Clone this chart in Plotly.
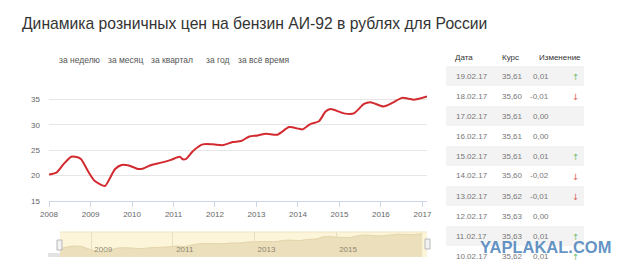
import plotly.graph_objects as go

# ---------------- data ----------------
title_text = "Динамика розничных цен на бензин АИ-92 в рублях для России"
range_buttons = ["за неделю", "за месяц", "за квартал", "за год", "за всё время"]

dates = ["2008-01-01", "2008-03-10", "2008-05-10", "2008-07-15", "2008-09-01", "2008-10-10",
         "2008-12-15", "2009-02-05", "2009-05-08", "2009-06-20", "2009-08-05", "2009-10-01",
         "2009-11-25", "2010-02-25", "2010-04-10", "2010-06-20", "2010-09-15", "2010-12-10",
         "2011-02-25", "2011-03-25", "2011-04-22", "2011-06-20", "2011-09-15", "2011-12-15",
         "2012-03-10", "2012-06-05", "2012-08-18", "2012-10-30", "2013-01-10", "2013-03-25",
         "2013-07-05", "2013-10-15", "2014-01-10", "2014-02-10", "2014-04-20", "2014-07-05",
         "2014-09-01", "2014-10-15", "2015-02-10", "2015-05-08", "2015-08-05", "2015-10-01",
         "2016-01-25", "2016-04-10", "2016-07-05", "2016-09-01", "2016-10-15", "2017-02-10"]
prices = [20.2, 20.65, 22.3, 23.7, 23.65, 23.2,
          20.65, 19.0, 17.95, 19.5, 21.3, 22.1,
          22.05, 21.3, 21.4, 22.1, 22.55, 23.1,
          23.7, 23.2, 23.3, 24.8, 26.15, 26.15,
          26.0, 26.6, 26.8, 27.7, 27.9, 28.25,
          28.05, 29.55, 29.2, 29.1, 30.15, 30.7,
          32.6, 33.1, 32.25, 32.25, 34.1, 34.45,
          33.6, 34.3, 35.3, 35.15, 34.95, 35.6]

y_ticks = [15, 20, 25, 30, 35, 40]
y_ticklabels = ["15", "20", "25", "30", "35", ""]
nav_ticks = ["2009-01-01", "2011-01-01", "2013-01-01", "2015-01-01"]

table_header = ["Дата", "Курс", "Изменение"]
table_dates = ["19.02.17", "18.02.17", "17.02.17", "16.02.17", "15.02.17",
               "14.02.17", "13.02.17", "12.02.17", "11.02.17", "10.02.17"]
table_rates = ["35,61", "35,60", "35,61", "35,61", "35,61",
               "35,60", "35,62", "35,63", "35,63", "35,62"]
table_changes = [0.01, -0.01, 0.00, 0.00, 0.01, -0.02, -0.01, 0.00, 0.01, 0.01]

watermark = "YAPLAKAL.COM"

# ---------------- helpers ----------------
W, H = 640, 276
def fx(p):
    return p / W
def fy(p):
    return 1 - p / H

FONT = "Liberation Sans, Arial, sans-serif"

fig = go.Figure()

# main line
fig.add_trace(go.Scatter(
    x=dates, y=prices, mode="lines",
    line=dict(color="#d32a2f", width=2, shape="spline", smoothing=0.6),
    xaxis="x", yaxis="y", hoverinfo="skip", showlegend=False))

# navigator area
fig.add_trace(go.Scatter(
    x=dates, y=prices, mode="lines", fill="tozeroy",
    fillcolor="#ebdfbc", line=dict(color="#e3d5a9", width=1, shape="spline", smoothing=0.6),
    xaxis="x2", yaxis="y2", hoverinfo="skip", showlegend=False))

shapes = []
annotations = []

# navigator background
shapes.append(dict(type="rect", xref="x2 domain", yref="y2 domain", x0=0, x1=1, y0=0, y1=1,
                   fillcolor="#fcf5d9", line=dict(width=0), layer="below"))
shapes.append(dict(type="line", xref="x2 domain", yref="y2 domain", x0=0, x1=1, y0=1, y1=1,
                   line=dict(color="#efe6c6", width=1)))
# navigator handles / scrollbar pieces
shapes.append(dict(type="rect", xref="paper", yref="paper", x0=fx(57), x1=fx(62), y0=fy(250), y1=fy(240),
                   fillcolor="#f2f2f2", line=dict(color="#b8b8b8", width=1)))
shapes.append(dict(type="rect", xref="paper", yref="paper", x0=fx(425), x1=fx(430), y0=fy(249), y1=fy(239),
                   fillcolor="#f2f2f2", line=dict(color="#b8b8b8", width=1)))
shapes.append(dict(type="rect", xref="paper", yref="paper", x0=fx(48), x1=fx(60), y0=fy(257), y1=fy(253),
                   fillcolor="#e3e3e3", line=dict(width=0)))

# title
annotations.append(dict(text=title_text, xref="paper", yref="paper", x=fx(20), y=fy(23),
                        xanchor="left", yanchor="middle", showarrow=False,
                        font=dict(family=FONT, size=15.7, color="#333333")))

# range buttons
btn_x = [79.5, 125.5, 172, 217.5, 264]
for t, cx in zip(range_buttons, btn_x):
    annotations.append(dict(text=t, xref="paper", yref="paper", x=fx(cx), y=fy(60),
                            xanchor="center", yanchor="middle", showarrow=False,
                            font=dict(family=FONT, size=8.5, color="#555555")))

# table
col_x = [453, 500, 537]
for t, cx in zip(table_header, col_x):
    annotations.append(dict(text=t, xref="paper", yref="paper", x=fx(cx), y=fy(57),
                            xanchor="left", yanchor="middle", showarrow=False,
                            font=dict(family=FONT, size=8, color="#333333")))
for i, (d, r, c) in enumerate(zip(table_dates, table_rates, table_changes)):
    yc = 76 + 20 * i
    if i % 2 == 0:
        shapes.append(dict(type="rect", xref="paper", yref="paper", x0=fx(446), x1=fx(584),
                           y0=fy(yc + 10), y1=fy(yc - 10), fillcolor="#f3f3f3",
                           line=dict(width=0), layer="below"))
    annotations.append(dict(text=d, xref="paper", yref="paper", x=fx(454), y=fy(yc),
                            xanchor="left", yanchor="middle", showarrow=False,
                            font=dict(family=FONT, size=8, color="#777777")))
    annotations.append(dict(text=r, xref="paper", yref="paper", x=fx(500), y=fy(yc),
                            xanchor="left", yanchor="middle", showarrow=False,
                            font=dict(family=FONT, size=8, color="#777777")))
    ctxt = ("%.2f" % c).replace(".", ",")
    annotations.append(dict(text=ctxt, xref="paper", yref="paper", x=fx(551), y=fy(yc),
                            xanchor="right", yanchor="middle", showarrow=False,
                            font=dict(family=FONT, size=8, color="#777777")))
    if c > 0:
        annotations.append(dict(text="↑", xref="paper", yref="paper", x=fx(575), y=fy(yc + 1),
                                xanchor="center", yanchor="middle", showarrow=False,
                                font=dict(family="DejaVu Sans", size=8.5, color="#6abf6a")))
    elif c < 0:
        annotations.append(dict(text="↓", xref="paper", yref="paper", x=fx(575), y=fy(yc + 1),
                                xanchor="center", yanchor="middle", showarrow=False,
                                font=dict(family="DejaVu Sans", size=8.5, color="#d9605c")))

# watermark
annotations.append(dict(text="<b>" + watermark + "</b>", xref="paper", yref="paper",
                        x=fx(545), y=fy(247), xanchor="center", yanchor="middle", showarrow=False,
                        font=dict(family=FONT, size=16.5, color="rgba(72,128,186,0.85)")))

fig.update_layout(
    width=W, height=H, margin=dict(l=0, r=0, t=0, b=0, autoexpand=False),
    paper_bgcolor="white", plot_bgcolor="rgba(0,0,0,0)",
    showlegend=False,
    shapes=shapes, annotations=annotations,
    xaxis=dict(domain=[fx(49), fx(427)], type="date", automargin=False,
               range=["2008-01-01", "2017-02-10"],
               tickvals=["%d-01-01" % yr for yr in range(2008, 2018)],
               tickformat="%Y", showgrid=False, showline=True, linecolor="#ccd6eb", linewidth=1,
               ticks="outside", ticklen=5, tickcolor="#ccd6eb",
               tickfont=dict(family=FONT, size=8, color="#666666"),
               zeroline=False, fixedrange=True),
    yaxis=dict(domain=[fy(201), fy(74)], range=[15, 40], automargin=False,
               tickvals=y_ticks, ticktext=y_ticklabels,
               showgrid=True, gridcolor="#e6e6e6", gridwidth=1, zeroline=False,
               showline=False, ticks="", ticklabelstandoff=8,
               tickfont=dict(family=FONT, size=8, color="#666666"), fixedrange=True),
    xaxis2=dict(domain=[fx(60), fx(427)], type="date", anchor="y2", automargin=False,
                range=["2008-03-28", "2017-03-25"],
                tickvals=nav_ticks, tickformat="%Y",
                showgrid=True, gridcolor="#e8dfc2", gridwidth=1,
                showline=False, ticks="", zeroline=False,
                ticklabelposition="inside", ticklabelshift=12, ticklabelstandoff=0,
                tickfont=dict(family=FONT, size=8, color="#8f8670"), fixedrange=True),
    yaxis2=dict(domain=[fy(257), fy(232)], range=[13, 37.5], anchor="x2", automargin=False,
                showgrid=False, showticklabels=False, zeroline=False, showline=False,
                fixedrange=True),
)

fig.write_html("out.html")
